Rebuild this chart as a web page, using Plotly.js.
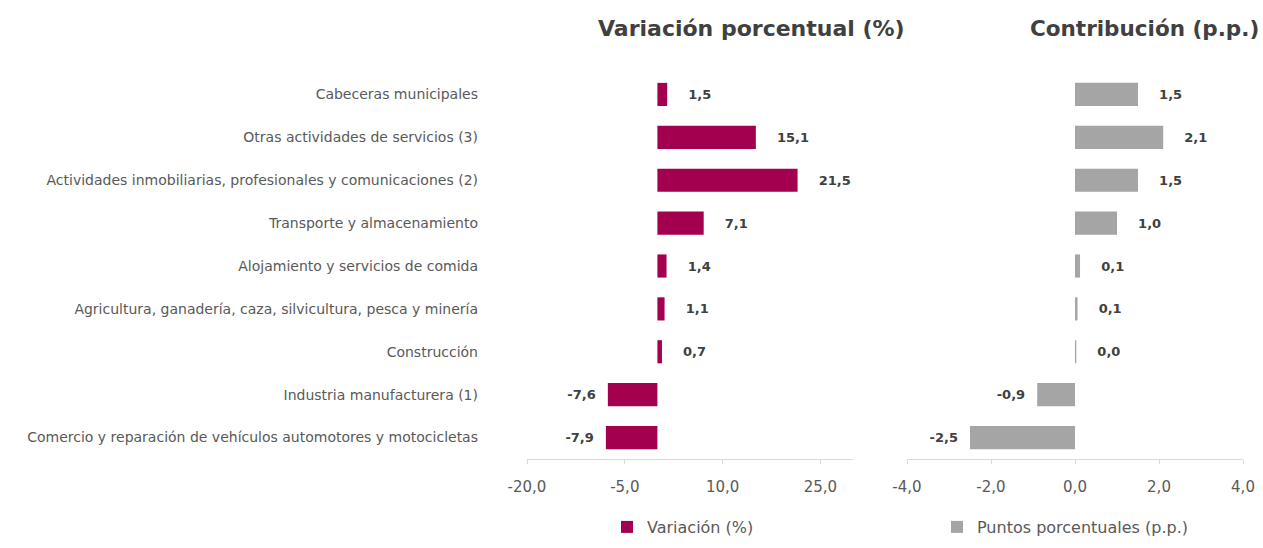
<!DOCTYPE html>
<html>
<head>
<meta charset="utf-8">
<script src="https://cdn.plot.ly/plotly-3.0.1.min.js"></script>
<style>html,body{margin:0;padding:0;background:#fff;}#chart{width:1263px;height:548px;}</style>
</head>
<body>
<div id="chart"></div>
<script>
var categories = [
  "Cabeceras municipales",
  "Otras actividades de servicios (3)",
  "Actividades inmobiliarias, profesionales y comunicaciones (2)",
  "Transporte y almacenamiento",
  "Alojamiento y servicios de comida",
  "Agricultura, ganadería, caza, silvicultura, pesca y minería",
  "Construcción",
  "Industria manufacturera (1)",
  "Comercio y reparación de vehículos automotores y motocicletas"
];
var variacion = [1.5, 15.1, 21.5, 7.1, 1.4, 1.1, 0.7, -7.6, -7.9];
var contribucion = [1.5, 2.1, 1.5, 1.0, 0.12, 0.06, 0.03, -0.9, -2.5];
var xTicksLeft = [-20, -5, 10, 25];
var xTicksRight = [-4, -2, 0, 2, 4];
var titleLeft = "Variación porcentual (%)";
var titleRight = "Contribución (p.p.)";
var legendLeft = "Variación (%)";
var legendRight = "Puntos porcentuales (p.p.)";

var NB = "\u00a0";
function fmt(v) { return v.toFixed(1).replace(".", ","); }
function lab(v) {
  var s = fmt(v);
  return v < 0 ? s + NB + NB : NB + NB + NB + NB + s;
}

var FONT = "DejaVu Sans, sans-serif";
var W = 1263, H = 548;
function px(x) { return x / W; }
function py(y) { return 1 - y / H; }

var traces = [
  {
    type: "bar", orientation: "h",
    x: variacion, y: categories,
    xaxis: "x", yaxis: "y",
    name: legendLeft, legend: "legend",
    marker: {color: "#A3004F"},
    text: variacion.map(lab), textposition: "outside", constraintext: "none",
    cliponaxis: false,
    textfont: {family: FONT, size: 13, color: "#404040", weight: "bold"},
    hoverinfo: "skip"
  },
  {
    type: "bar", orientation: "h",
    x: contribucion, y: categories,
    xaxis: "x2", yaxis: "y2",
    name: legendRight, legend: "legend2",
    marker: {color: "#A5A5A5"},
    text: contribucion.map(lab), textposition: "outside", constraintext: "none",
    cliponaxis: false,
    textfont: {family: FONT, size: 13, color: "#404040", weight: "bold"},
    hoverinfo: "skip"
  }
];

var yDom = [py(459), py(73)];
var xaxisCommon = {
  showgrid: false, zeroline: false, showline: true,
  linecolor: "#D9D9D9", linewidth: 1,
  ticks: "outside", ticklen: 4, tickcolor: "#D9D9D9",
  ticklabelstandoff: 10,
  tickfont: {family: FONT, size: 15, color: "#595959"},
  fixedrange: true, automargin: false
};

var layout = {
  width: W, height: H,
  margin: {l: 0, r: 0, t: 0, b: 0},
  paper_bgcolor: "#ffffff", plot_bgcolor: "#ffffff",
  separators: ",.",
  bargap: 0.46,
  showlegend: true,
  xaxis: Object.assign({}, xaxisCommon, {
    domain: [px(527), px(853)], range: [-20, 30],
    tickmode: "array", tickvals: xTicksLeft, ticktext: xTicksLeft.map(fmt), anchor: "y"
  }),
  xaxis2: Object.assign({}, xaxisCommon, {
    domain: [px(907), px(1243)], range: [-4, 4],
    tickmode: "array", tickvals: xTicksRight, ticktext: xTicksRight.map(fmt), anchor: "y2"
  }),
  yaxis: {
    domain: yDom, autorange: "reversed", type: "category",
    showgrid: false, zeroline: false, showline: false, ticks: "",
    ticklabelstandoff: 48,
    tickfont: {family: FONT, size: 14, color: "#595959"},
    anchor: "x", automargin: false, fixedrange: true
  },
  yaxis2: {
    domain: yDom, autorange: "reversed", type: "category",
    showgrid: false, zeroline: false, showline: false, ticks: "",
    showticklabels: false, anchor: "x2", matches: "y", fixedrange: true
  },
  legend: {
    x: px(607), y: py(527), xanchor: "left", yanchor: "middle",
    orientation: "h", bgcolor: "rgba(0,0,0,0)",
    font: {family: FONT, size: 16, color: "#595959"}
  },
  legend2: {
    x: px(937), y: py(527), xanchor: "left", yanchor: "middle",
    orientation: "h", bgcolor: "rgba(0,0,0,0)",
    font: {family: FONT, size: 16, color: "#595959"}
  },
  annotations: [
    {text: titleLeft, xref: "paper", yref: "paper", x: px(751), y: py(28),
     xanchor: "center", yanchor: "middle", showarrow: false,
     font: {family: FONT, size: 22, color: "#404040", weight: "bold"}},
    {text: titleRight, xref: "paper", yref: "paper", x: px(1144), y: py(28),
     xanchor: "center", yanchor: "middle", showarrow: false,
     font: {family: FONT, size: 21.5, color: "#404040", weight: "bold"}}
  ]
};

Plotly.newPlot("chart", traces, layout, {displayModeBar: false, staticPlot: true});
</script>
</body>
</html>
